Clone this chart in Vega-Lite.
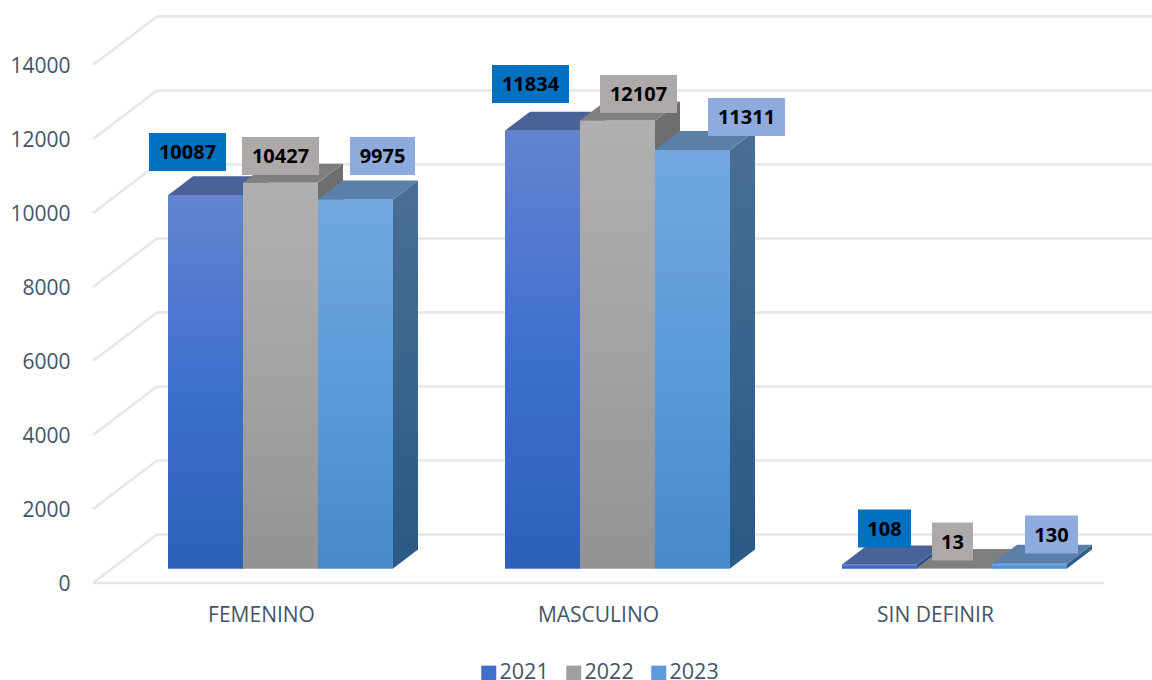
{
"$schema":"https://vega.github.io/schema/vega-lite/v6.json",
"autosize":{"type":"none"},
"padding":{"left":93,"top":65,"right":48,"bottom":97},
"width":1011,"height":518,
"background":"white",
"config":{
 "view":{"stroke":null},
 "axis":{"domain":false,"ticks":false,"grid":false,"labelFont":"Open Sans","labelFontSize":21,"labelColor":"#44546A"},
 "axisX":{"labelPadding":21,"labelAngle":0},
 "axisY":{"labelPadding":23,"tickCount":8,"format":"d","labelOffset":1.5},
 "legend":{"labelFont":"Open Sans","labelFontSize":21.5,"labelColor":"#44546A"}
},
"datasets":{
 "marcas":[{"tick":0},{"tick":2000},{"tick":4000},{"tick":6000},{"tick":8000},{"tick":10000},{"tick":12000},{"tick":14000}],
 "casos":[
  {"sexo":"FEMENINO","anio":"2021","casos":10087},
  {"sexo":"FEMENINO","anio":"2022","casos":10427},
  {"sexo":"FEMENINO","anio":"2023","casos":9975},
  {"sexo":"MASCULINO","anio":"2021","casos":11834},
  {"sexo":"MASCULINO","anio":"2022","casos":12107},
  {"sexo":"MASCULINO","anio":"2023","casos":11311},
  {"sexo":"SIN DEFINIR","anio":"2021","casos":108},
  {"sexo":"SIN DEFINIR","anio":"2022","casos":13},
  {"sexo":"SIN DEFINIR","anio":"2023","casos":130}
 ]
},
"layer":[
 {"data":{"name":"marcas"},
  "mark":{"type":"rule","color":"#E3E6EE","strokeWidth":2.5,"xOffset":64,"x2Offset":260,"yOffset":-48.5,"y2Offset":-48.5},
  "encoding":{
   "x":{"datum":"FEMENINO","bandPosition":0,"type":"nominal","title":null,"scale":{"type":"band","domain":["FEMENINO","MASCULINO","SIN DEFINIR"],"paddingInner":0,"paddingOuter":0}},
   "x2":{"datum":"SIN DEFINIR"},
   "y":{"field":"tick","type":"quantitative","title":null,"scale":{"domain":[0,14000]}},
   "y2":{"field":"tick"}
  }},
 {"data":{"name":"marcas"},
  "mark":{"type":"rule","color":"#E3E6EE","strokeWidth":2.5,"xOffset":0,"x2Offset":64,"yOffset":0,"y2Offset":-48.5},
  "encoding":{
   "x":{"datum":"FEMENINO","bandPosition":0,"type":"nominal","title":null},
   "x2":{"datum":"FEMENINO","bandPosition":0},
   "y":{"field":"tick","type":"quantitative","title":null},
   "y2":{"field":"tick"}
  }},
 {"data":{"values":[{"tick":0}]},
  "mark":{"type":"rule","color":"#E3E6EE","strokeWidth":2.5,"x2Offset":168.5},
  "encoding":{
   "x":{"datum":"FEMENINO","bandPosition":0,"type":"nominal","title":null},
   "x2":{"datum":"SIN DEFINIR"},
   "y":{"field":"tick","type":"quantitative","title":null}
  }},
 {"data":{"name":"casos"},
  "resolve":{"scale":{"shape":"independent","xOffset":"independent"}},
  "encoding":{
   "x":{"field":"sexo","type":"nominal","title":null,"scale":{"type":"band"}},
   "xOffset":{"field":"anio","type":"nominal","scale":{"type":"band","range":[75,300],"paddingInner":0,"paddingOuter":0}}
  },
  "layer":[
   {"mark":{"type":"bar","yOffset":-14.5,"y2Offset":-14.5},
    "encoding":{
     "y":{"field":"casos","type":"quantitative","title":null,"stack":null},
     "y2":{"datum":0},
     "color":{"field":"anio","type":"nominal","title":null,
      "scale":{"domain":["2021","2022","2023"],"range":["#3F6FCD","#A0A0A0","#5B9BDC"]},
      "legend":{"orient":"none","legendX":385,"legendY":597,"direction":"horizontal","symbolType":"square","symbolSize":225,"symbolStrokeWidth":0,"columnPadding":14,"labelOffset":0,"title":null,
       "encode":{"symbols":{"update":{"fill":[
         {"test":"datum.value=='2021'","value":{"gradient":"linear","x1":0,"y1":0,"x2":0,"y2":1,"stops":[{"offset":0,"color":"#4F79D2"},{"offset":1,"color":"#2F60B8"}]}},
         {"test":"datum.value=='2022'","value":{"gradient":"linear","x1":0,"y1":0,"x2":0,"y2":1,"stops":[{"offset":0,"color":"#B0B0B0"},{"offset":1,"color":"#939393"}]}},
         {"value":{"gradient":"linear","x1":0,"y1":0,"x2":0,"y2":1,"stops":[{"offset":0,"color":"#6AA5E0"},{"offset":1,"color":"#4889C9"}]}}]}}}}}
    }},
   {"transform":[{"filter":"datum.casos>1000"}],
    "mark":{"type":"bar","width":25,"yOffset":-14.5,"y2Offset":-33.5},
    "encoding":{
     "xOffset":{"field":"anio","type":"nominal","scale":{"type":"band","range":[125,350],"paddingInner":0,"paddingOuter":0}},
     "y":{"field":"casos","type":"quantitative","title":null,"stack":null},
     "y2":{"datum":0},
     "fill":{"condition":[
       {"test":"datum.anio=='2021'","value":{"gradient":"linear","x1":0,"y1":0,"x2":0,"y2":1,"stops":[{"offset":0,"color":"#3F5A8E"},{"offset":1,"color":"#2A4F8A"}]}},
       {"test":"datum.anio=='2022'","value":{"gradient":"linear","x1":0,"y1":0,"x2":0,"y2":1,"stops":[{"offset":0,"color":"#6E6E6E"},{"offset":1,"color":"#575757"}]}}],
      "value":{"gradient":"linear","x1":0,"y1":0,"x2":0,"y2":1,"stops":[{"offset":0,"color":"#486E94"},{"offset":1,"color":"#2A5A85"}]}}
    }},
   {"transform":[{"filter":"datum.casos>1000"}],
    "mark":{"type":"point","filled":true,"opacity":1,"size":4,"yOffset":-14.5,"strokeWidth":0,"shape":"M37.5,0L62.5,-19L62.5,1L37.5,1Z"},
    "encoding":{
     "y":{"field":"casos","type":"quantitative","title":null,"stack":null},
     "fill":{"condition":[{"test":"datum.anio=='2021'","value":"#3F5A8E"},{"test":"datum.anio=='2022'","value":"#6E6E6E"}],"value":"#486E94"}
    }},
   {"transform":[{"filter":"datum.casos>1000"}],
    "mark":{"type":"point","filled":true,"opacity":1,"size":4,"yOffset":-14.5,"strokeWidth":0,"shape":"M37.5,-20L62.5,-20L62.5,-19L37.5,0Z"},
    "encoding":{
     "y":{"datum":0,"type":"quantitative"},
     "fill":{"condition":[{"test":"datum.anio=='2021'","value":"#2A4F8A"},{"test":"datum.anio=='2022'","value":"#575757"}],"value":"#2A5A85"}
    }},
   {"transform":[{"filter":"datum.casos<1000"}],
    "mark":{"type":"point","filled":true,"opacity":1,"size":4,"yOffset":-14.5,"strokeWidth":0},
    "encoding":{
     "y":{"field":"casos","type":"quantitative","title":null,"stack":null},
     "shape":{"field":"casos","type":"nominal","legend":null,"scale":{"domain":[108,13,130],"range":["M37.5,0L62.5,-19L62.5,-15L37.5,4Z","M37.5,0L62.5,-19L62.5,-18.5L37.5,0.5Z","M37.5,0L62.5,-19L62.5,-14.2L37.5,4.8Z"]}},
     "fill":{"condition":[{"test":"datum.anio=='2021'","value":"#2A4F8A"},{"test":"datum.anio=='2022'","value":"#6E6E6E"}],"value":"#2F5F8C"}
    }},
   {"mark":{"type":"point","filled":true,"opacity":1,"size":4,"yOffset":-14.5,"strokeWidth":0,"shape":"M-37.5,0L37.5,0L62.5,-19L-12.5,-19Z"},
    "encoding":{
     "y":{"field":"casos","type":"quantitative","title":null,"stack":null},
     "fill":{"condition":[{"test":"datum.anio=='2021'","value":"#4A6298"},{"test":"datum.anio=='2022'","value":"#7F7F7F"}],"value":"#5A7FA8"}
    }},
   {"mark":{"type":"bar","yOffset":-14.5,"y2Offset":-14.5},
    "encoding":{
     "y":{"field":"casos","type":"quantitative","title":null,"stack":null},
     "y2":{"datum":0},
     "fill":{"condition":[
       {"test":"datum.anio=='2021'","value":{"gradient":"linear","x1":0,"y1":0,"x2":0,"y2":1,"stops":[{"offset":0,"color":"#6384CF"},{"offset":0.5,"color":"#3F6FCD"},{"offset":1,"color":"#2F60B8"}]}},
       {"test":"datum.anio=='2022'","value":{"gradient":"linear","x1":0,"y1":0,"x2":0,"y2":1,"stops":[{"offset":0,"color":"#B0B0B0"},{"offset":0.5,"color":"#A3A3A3"},{"offset":1,"color":"#939393"}]}}],
      "value":{"gradient":"linear","x1":0,"y1":0,"x2":0,"y2":1,"stops":[{"offset":0,"color":"#73A8DF"},{"offset":0.5,"color":"#5B9BDC"},{"offset":1,"color":"#4889C9"}]}}
    }},
   {"mark":{"type":"point","filled":true,"opacity":1,"size":4,"yOffset":-14.5,"strokeWidth":0},
    "encoding":{
     "y":{"field":"casos","type":"quantitative","title":null,"stack":null},
     "shape":{"field":"casos","type":"nominal","legend":null,"scale":{
       "domain":[10087,10427,9975,11834,12107,11311,108,13,130],
       "range":["M-56.5,-62.4L20.5,-62.4L20.5,-24.4L-56.5,-24.4Z","M-38.5,-45.8L38.5,-45.8L38.5,-7.8L-38.5,-7.8Z","M-5.5,-62.5L59.5,-62.5L59.5,-24.5L-5.5,-24.5Z","M-50.5,-65.7L26.5,-65.7L26.5,-27.7L-50.5,-27.7Z","M-17.5,-45.6L59.5,-45.6L59.5,-7.6L-17.5,-7.6Z","M15.5,-52.1L92.5,-52.1L92.5,-14.1L15.5,-14.1Z","M-21.5,-55L31.5,-55L31.5,-17L-21.5,-17Z","M-22.5,-45.5L18.5,-45.5L18.5,-7.5L-22.5,-7.5Z","M-4.5,-48.2L48.5,-48.2L48.5,-10.2L-4.5,-10.2Z"]}},
     "fill":{"condition":[{"test":"datum.anio=='2021'","value":"#0070C0"},{"test":"datum.anio=='2022'","value":"#ADA9A9"}],"value":"#8FAADC"}
    }},
   {"mark":{"type":"text","font":"Open Sans","fontWeight":"bold","fontSize":20,"color":"#000000","baseline":"middle","align":"center","yOffset":-13,
     "dx":{"expr":"{'10087':-18,'10427':0,'9975':27,'11834':-12,'12107':21,'11311':54,'108':5,'13':-2,'130':22}[datum.casos]"},
     "dy":{"expr":"{'10087':-43.4,'10427':-26.8,'9975':-43.5,'11834':-46.7,'12107':-26.6,'11311':-33.1,'108':-36,'13':-26.5,'130':-29.2}[datum.casos]"}},
    "encoding":{
     "y":{"field":"casos","type":"quantitative","title":null,"stack":null},
     "text":{"field":"casos","type":"nominal"}
    }}
  ]}
]
}
